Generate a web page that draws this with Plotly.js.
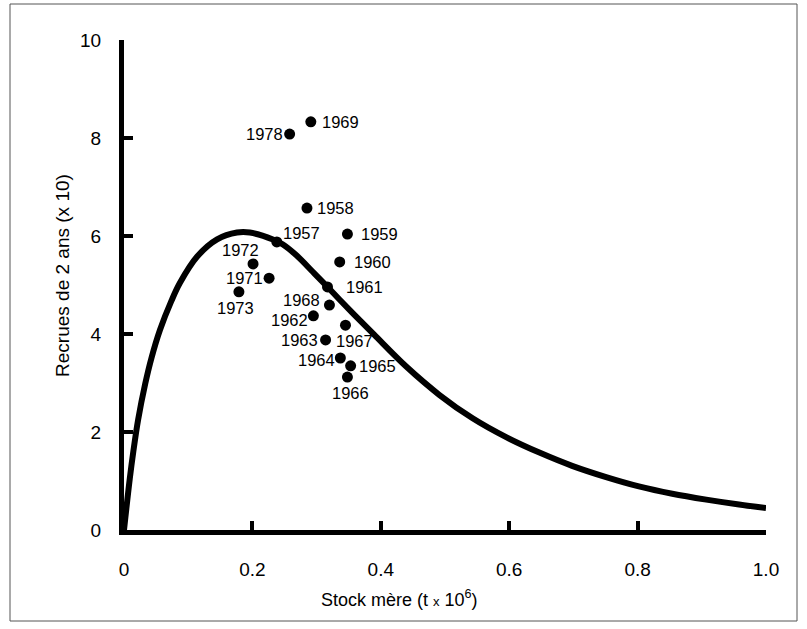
<!DOCTYPE html>
<html><head><meta charset="utf-8">
<script src="https://cdn.plot.ly/plotly-3.0.1.min.js"></script>
<style>html,body{margin:0;padding:0;background:#fff}</style>
</head><body><div id="chart" style="width:807px;height:629px"></div>
<script>
// Observed points (year, spawning stock t x 10^6, 2-year recruits x 10)
const years    = ['1969','1978','1958','1959','1957','1972','1971','1973','1960','1961','1968','1962','1967','1963','1964','1965','1966'];
const stock    = [0.291, 0.258, 0.285, 0.348, 0.238, 0.201, 0.226, 0.179, 0.336, 0.317, 0.320, 0.295, 0.345, 0.314, 0.337, 0.353, 0.348];
const recruits = [8.33, 8.08, 6.57, 6.04, 5.88, 5.43, 5.14, 4.86, 5.47, 4.96, 4.59, 4.37, 4.18, 3.88, 3.51, 3.35, 3.12];

// Fitted stock-recruitment curve
const curveStock    = [0, 0.009, 0.0145, 0.022, 0.033, 0.043, 0.056, 0.074, 0.087, 0.114, 0.145, 0.176, 0.196, 0.232, 0.247, 0.269, 0.294, 0.317, 0.336, 0.362, 0.39, 0.44, 0.491, 0.543, 0.596, 0.647, 0.698, 0.751, 0.802, 0.854, 0.907, 0.958, 1.0];
const curveRecruits = [0, 1.05, 1.60, 2.25, 2.98, 3.52, 4.08, 4.68, 5.04, 5.58, 5.93, 6.07, 6.07, 5.93, 5.83, 5.60, 5.27, 4.96, 4.70, 4.35, 3.98, 3.33, 2.76, 2.28, 1.89, 1.58, 1.31, 1.08, 0.89, 0.74, 0.62, 0.52, 0.45];

const xTickVals = [0, 0.2, 0.4, 0.6, 0.8, 1.0];
const xTickText = ['0', '0.2', '0.4', '0.6', '0.8', '1.0'];
const yTickVals = [0, 2, 4, 6, 8, 10];
const yTickText = ['0', '2', '4', '6', '8', '10'];

// label offsets in pixels from each point (dx right, dy down)
const labelOffsets = [[30,0],[-25,0],[29,0],[32,0],[25,-9],[-13,-14],[-25,0],[-3,16],[33,0],[37,0],[-28,-5],[-24,4],[9,16],[-26,0],[-24,2],[27,0],[3,16]];

const FONT = 'Liberation Sans, Arial, sans-serif';

const traces = [
  {x: curveStock, y: curveRecruits, type: 'scatter', mode: 'lines',
   line: {color: '#000', width: 6, shape: 'spline', smoothing: 1}, hoverinfo: 'skip', cliponaxis: false},
  {x: stock, y: recruits, type: 'scatter', mode: 'markers',
   marker: {color: '#000', size: 11}, cliponaxis: false}
];

const annotations = years.map((yr, i) => ({
  x: stock[i], y: recruits[i], xref: 'x', yref: 'y', text: yr, showarrow: false,
  xanchor: 'center', yanchor: 'middle',
  xshift: labelOffsets[i][0], yshift: -labelOffsets[i][1],
  font: {family: FONT, size: 16.5, color: '#000'}
}));
annotations.push({
  xref: 'paper', yref: 'paper', x: 0.429, y: -0.139, showarrow: false,
  xanchor: 'center', yanchor: 'middle',
  text: "Stock mère (t <span style='font-size:13px'>x</span> 10<sup>6</sup>)",
  font: {family: FONT, size: 18, color: '#000'}
});
annotations.push({
  xref: 'paper', yref: 'paper', x: -0.097, y: 0.52, showarrow: false, textangle: -90,
  xanchor: 'center', yanchor: 'middle',
  text: 'Recrues de 2 ans (x 10)',
  font: {family: FONT, size: 19, color: '#000'}
});

const layout = {
  width: 807, height: 629,
  margin: {l: 124, r: 41, t: 40, b: 99},
  paper_bgcolor: '#fff', plot_bgcolor: '#fff',
  showlegend: false,
  xaxis: {range: [0, 1.0], tickvals: xTickVals, ticktext: xTickText,
    showline: true, linewidth: 5, linecolor: '#000', showgrid: false, zeroline: false,
    ticks: 'inside', ticklen: 9, tickwidth: 4, tickcolor: '#000',
    ticklabelstandoff: 18, tickfont: {family: FONT, size: 19, color: '#000'}},
  yaxis: {range: [0, 10], tickvals: yTickVals, ticktext: yTickText,
    showline: true, linewidth: 5, linecolor: '#000', showgrid: false, zeroline: false,
    ticks: 'inside', ticklen: 9, tickwidth: 4, tickcolor: '#000',
    ticklabelstandoff: 14, tickfont: {family: FONT, size: 19, color: '#000'}},
  annotations: annotations,
  shapes: [{type: 'rect', xref: 'paper', yref: 'paper',
    x0: (10 - 124) / 642, x1: (797 - 124) / 642, y0: (530 - 621) / 490, y1: (530 - 4) / 490,
    line: {color: '#555', width: 1}, fillcolor: 'rgba(0,0,0,0)', layer: 'below'}]
};

Plotly.newPlot('chart', traces, layout, {displayModeBar: false, staticPlot: true});
</script>
</body></html>
